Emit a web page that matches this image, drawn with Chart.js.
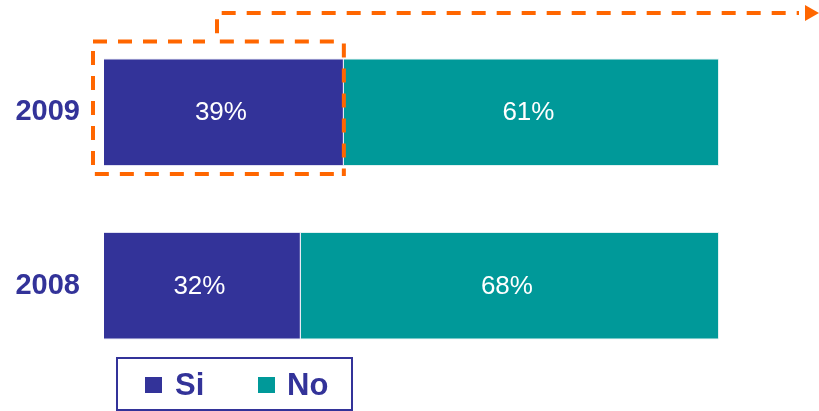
<!DOCTYPE html>
<html>
<head>
<meta charset="utf-8">
<script src="https://cdn.jsdelivr.net/npm/chart.js@4"></script>
<style>
  html, body { margin: 0; padding: 0; background: #fff; }
  #wrap { width: 819px; height: 411px; }
</style>
</head>
<body>
<div id="wrap"><canvas id="myChart" width="819" height="411"></canvas></div>
<script>
const years = ['2009', '2008'];
const siValues = [39, 32];
const noValues = [61, 68];
const seriesNames = ['Si', 'No'];

const BLUE = '#333399';
const TEAL = '#009999';
const ORANGE = '#ff6600';

// white % labels in the middle of every segment
const valueLabels = {
  id: 'valueLabels',
  afterDatasetsDraw(chart) {
    const c = chart.ctx;
    c.save();
    c.fillStyle = '#fff';
    c.font = '26px "Liberation Sans", Arial, sans-serif';
    c.textAlign = 'center';
    c.textBaseline = 'middle';
    chart.data.datasets.forEach((ds, i) => {
      chart.getDatasetMeta(i).data.forEach((bar, j) => {
        c.fillText(ds.data[j] + '%', (bar.x + bar.base) / 2 - 3, bar.y + 1);
      });
    });
    c.restore();
  }
};

// dashed orange box round the 2009 "Si" bar, with arrow going off to the right
const callout = {
  id: 'callout',
  afterDraw(chart) {
    const bar = chart.getDatasetMeta(0).data[0];
    const c = chart.ctx;
    const h = bar.height;
    const left = bar.base - 11, right = bar.x;
    const top = bar.y - h / 2 - 17, bottom = bar.y + h / 2 + 8;
    const elbow = bar.base + 113;
    const lineY = 13;
    const arrowX = chart.width - 14;
    c.save();
    c.strokeStyle = ORANGE;
    c.lineWidth = 4;
    c.setLineDash([14, 11]);
    c.beginPath();
    c.moveTo(right - 10, bottom);
    c.lineTo(left, bottom);
    c.lineTo(left, top);
    c.stroke();
    c.beginPath();
    c.moveTo(right, top + 2);
    c.lineTo(right, bottom + 2);
    c.stroke();
    c.beginPath();
    c.moveTo(right - 10, top);
    c.lineTo(elbow, top);
    c.lineTo(elbow, lineY);
    c.lineTo(arrowX - 6, lineY);
    c.stroke();
    c.beginPath();
    c.moveTo(left, top);
    c.lineTo(elbow - 12, top);
    c.stroke();
    c.setLineDash([]);
    c.fillStyle = ORANGE;
    c.beginPath();
    c.moveTo(arrowX, lineY - 8);
    c.lineTo(arrowX + 14, lineY);
    c.lineTo(arrowX, lineY + 8);
    c.closePath();
    c.fill();
    c.restore();
  }
};

// boxed legend under the bars
const boxLegend = {
  id: 'boxLegend',
  afterDraw(chart) {
    const c = chart.ctx;
    const items = chart.data.datasets;
    const xs = [[145, 175], [258, 287]];
    c.save();
    c.strokeStyle = BLUE;
    c.lineWidth = 2;
    c.strokeRect(117, 358, 235, 52);
    c.font = 'bold 31px "Liberation Sans", Arial, sans-serif';
    c.textBaseline = 'middle';
    items.forEach((ds, i) => {
      c.fillStyle = ds.backgroundColor;
      c.fillRect(xs[i][0], 377, 17, 16);
      c.fillStyle = BLUE;
      c.fillText(ds.label, xs[i][1], 386);
    });
    c.restore();
  }
};

const ctx = document.getElementById('myChart');

new Chart(ctx, {
  type: 'bar',
  data: {
    labels: years,
    datasets: [{
      label: seriesNames[0],
      data: siValues,
      backgroundColor: BLUE,
      borderColor: 'rgba(220,220,240,0.9)',
      borderWidth: 1,
      categoryPercentage: 1,
      barPercentage: 0.62
    }, {
      label: seriesNames[1],
      data: noValues,
      backgroundColor: TEAL,
      borderColor: 'rgba(220,240,240,0.9)',
      borderWidth: 1,
      categoryPercentage: 1,
      barPercentage: 0.62
    }]
  },
  options: {
    indexAxis: 'y',
    responsive: false,
    animation: false,
    layout: { padding: { top: 25.5, bottom: 38.5, right: 100, left: 0 } },
    plugins: {
      legend: { display: false },
      tooltip: { enabled: false }
    },
    scales: {
      x: {
        stacked: true,
        min: 0,
        max: 100,
        display: false
      },
      y: {
        stacked: true,
        border: { display: false },
        grid: { display: false, drawTicks: false },
        ticks: {
          color: BLUE,
          padding: 24,
          font: { family: '"Liberation Sans", Arial, sans-serif', size: 29, weight: 'bold' }
        },
        afterFit(scale) {
          scale.width = 104;
          scale.paddingTop = 0;
          scale.paddingBottom = 0;
        }
      }
    }
  },
  plugins: [valueLabels, callout, boxLegend]
});
</script>
</body>
</html>
